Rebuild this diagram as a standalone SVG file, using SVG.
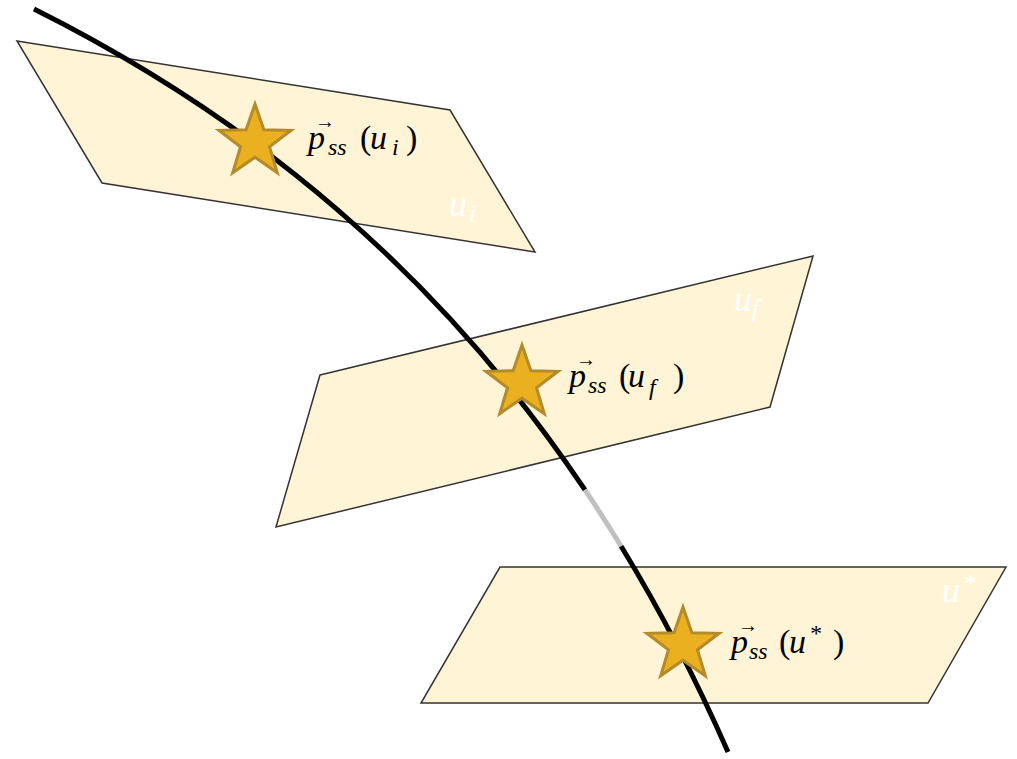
<svg xmlns="http://www.w3.org/2000/svg" width="1017" height="759" viewBox="0 0 1017 759">
<style>
.plane{fill:#FFF5D6;stroke:#333;stroke-width:1.5;stroke-linejoin:miter}
.star{fill:#EAB020;stroke:#B48B2B;stroke-width:3;stroke-linejoin:miter}
.curve{fill:none;stroke:#000;stroke-width:5}
.curve.gray{stroke:#C0C0C0}
.m{font-family:'Liberation Serif','DejaVu Serif',serif;font-style:italic;font-size:34px;fill:#000}
.r{font-style:normal}
.sub{font-size:24px}
.arr{font-style:normal;font-size:20px}
.pl{font-family:'Liberation Serif','DejaVu Serif',serif;font-style:italic;font-size:36px;fill:#fff}
.pls{font-size:25px}
</style>
<defs>
<polygon id="starShape" points="0,-38 8.9,-12.3 36.1,-11.7 14.5,4.7 22.3,30.7 0,15.2 -22.3,30.7 -14.5,4.7 -36.1,-11.7 -8.9,-12.3"/>
</defs>
<rect width="1017" height="759" fill="#fff"/>
<g id="plane-ui">
<polygon class="plane" points="17,41 450,110 535,252 102,183"/>
<text class="pl" x="449" y="216">u<tspan class="pls" x="469" y="222">i</tspan></text>
</g>
<g id="plane-uf">
<polygon class="plane" points="320,375 813,256 770,407 276,527"/>
<text class="pl" x="734" y="311">u<tspan class="pls" x="752" y="317">f</tspan></text>
</g>
<g id="plane-ustar">
<polygon class="plane" points="500,567 1006,567 928,703 421,703"/>
<text class="pl" x="942" y="602">u<tspan class="pls" x="963" y="592">*</tspan></text>
</g>
<g id="connectors">
<path class="curve" d="M34,9 C253.9,118.95 439.41,273.5 585.02,489.96"/>
<path class="curve gray" d="M585.02,489.96 C597.34,508.27 609.37,527.02 621.11,546.23"/>
<path class="curve" d="M621.11,546.23 C659.94,609.74 695.61,678.2 728,752"/>
</g>
<g id="star-ui">
<use href="#starShape" class="star" transform="translate(255,142)"/>
<text class="m"><tspan class="arr" x="315" y="128">→</tspan><tspan x="308" y="149">p</tspan><tspan class="sub" x="328" y="155">ss</tspan><tspan class="r" x="360" y="149">(</tspan><tspan x="370" y="149">u</tspan><tspan class="sub" x="392" y="155">i</tspan><tspan class="r" x="406" y="149">)</tspan></text>
</g>
<g id="star-uf">
<use href="#starShape" class="star" transform="translate(522,383)"/>
<text class="m"><tspan class="arr" x="576" y="366">→</tspan><tspan x="569" y="387">p</tspan><tspan class="sub" x="588" y="393">ss</tspan><tspan class="r" x="619" y="387">(</tspan><tspan x="628" y="387">u</tspan><tspan class="sub" x="649" y="395">f</tspan><tspan class="r" x="673" y="387">)</tspan></text>
</g>
<g id="star-ustar">
<use href="#starShape" class="star" transform="translate(683,645)"/>
<text class="m"><tspan class="arr" x="738" y="632">→</tspan><tspan x="731" y="653">p</tspan><tspan class="sub" x="749" y="659">ss</tspan><tspan class="r" x="779" y="653">(</tspan><tspan x="789" y="653">u</tspan><tspan class="sub" x="809" y="641">*</tspan><tspan class="r" x="833" y="653">)</tspan></text>
</g>
</svg>
